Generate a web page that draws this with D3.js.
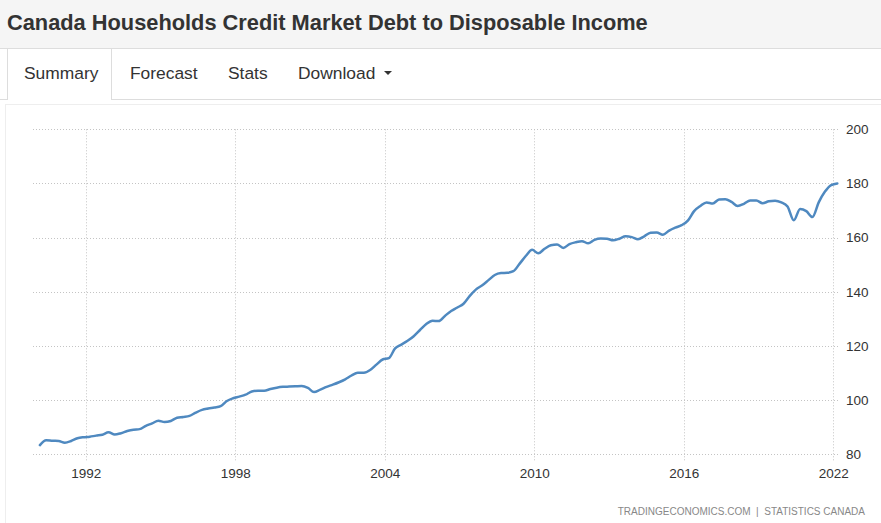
<!DOCTYPE html>
<html>
<head>
<meta charset="utf-8">
<script src="https://cdn.jsdelivr.net/npm/d3@7"></script>
<style>
  html, body { margin: 0; padding: 0; background: #fff; }
  svg { display: block; font-family: "Liberation Sans", Arial, Helvetica, sans-serif; }
</style>
</head>
<body>
<svg id="chart" width="881" height="523"></svg>
<script>
// ---- Data (quarterly, first quarter 1990 Q1, last 2022 Q1) ----
const title = "Canada Households Credit Market Debt to Disposable Income";
const tabs = ["Summary", "Forecast", "Stats", "Download"];
const firstQuarter = "1990-03-01";
const values = [
  83.4, 85.2, 85.0, 84.9, 84.3, 84.9, 85.9, 86.3,
  86.5, 86.9, 87.2, 88.1, 87.3, 87.8, 88.6, 89.1,
  89.3, 90.5, 91.4, 92.4, 91.9, 92.3, 93.5, 93.8,
  94.2, 95.4, 96.4, 96.9, 97.3, 97.8, 99.7, 100.7,
  101.3, 102.0, 103.2, 103.5, 103.5, 104.1, 104.6, 104.9,
  105.0, 105.1, 105.2, 104.5, 103.0, 103.9, 104.9, 105.7,
  106.6, 107.7, 109.1, 110.1, 110.1, 111.1, 113.1, 115.0,
  115.5, 119.1, 120.5, 121.9, 123.6, 125.9, 128.1, 129.3,
  129.2, 131.1, 132.9, 134.2, 135.6, 138.5, 140.9, 142.4,
  144.3, 146.2, 146.9, 147.0, 147.6, 150.4, 153.3, 155.5,
  154.2, 155.9, 157.2, 157.5, 156.2, 157.6, 158.3, 158.7,
  157.9, 159.2, 159.7, 159.6, 159.0, 159.6, 160.5, 160.2,
  159.4, 160.5, 161.8, 161.9, 161.1, 162.6, 163.7, 164.6,
  166.3, 169.8, 171.7, 173.0, 172.6, 174.1, 174.2, 173.2,
  171.7, 172.5, 173.7, 173.7, 172.7, 173.4, 173.6, 173.0,
  171.5, 166.4, 170.6, 169.8, 167.6, 173.0, 177.0, 179.4,
  180.0
];
const xTickYears = [1992, 1998, 2004, 2010, 2016, 2022];
const yTickValues = [80, 100, 120, 140, 160, 180, 200];
const sourceText = "TRADINGECONOMICS.COM  |  STATISTICS CANADA";

// ---- Build series ----
const start = d3.timeParse("%Y-%m-%d")(firstQuarter);
const series = values.map((v, i) => ({ date: d3.timeMonth.offset(start, i * 3), value: v }));

const svg = d3.select("#chart");

// Header band
svg.append("rect").attr("x", 0).attr("y", 0).attr("width", 881).attr("height", 48).attr("fill", "#f5f5f5");
svg.append("line").attr("x1", 0).attr("x2", 881).attr("y1", 48.5).attr("y2", 48.5).attr("stroke", "#dddddd");
svg.append("text").attr("x", 7).attr("y", 30)
  .attr("font-size", 21.8).attr("font-weight", "bold").attr("fill", "#333")
  .text(title);

// Tabs
const tabX = [24, 130, 228, 298];
svg.append("line").attr("x1", 0).attr("x2", 7).attr("y1", 99.5).attr("y2", 99.5).attr("stroke", "#dddddd");
svg.append("line").attr("x1", 112).attr("x2", 881).attr("y1", 99.5).attr("y2", 99.5).attr("stroke", "#dddddd");
svg.append("path").attr("d", "M7.5,100 V48.5 M111.5,48.5 V100").attr("stroke", "#dddddd").attr("fill", "none");
tabs.forEach((t, i) => {
  svg.append("text").attr("x", tabX[i]).attr("y", 79)
    .attr("font-size", 17.4).attr("fill", "#333").text(t);
});
svg.append("path").attr("d", "M384,71 L392,71 L388,75 Z").attr("fill", "#333");

// Chart panel borders
svg.append("line").attr("x1", 5.5).attr("x2", 5.5).attr("y1", 104).attr("y2", 523).attr("stroke", "#eeeeee");
svg.append("line").attr("x1", 5).attr("x2", 881).attr("y1", 104.5).attr("y2", 104.5).attr("stroke", "#eeeeee");

// Scales
const x = d3.scaleTime()
  .domain([new Date(1992, 0, 1), new Date(2022, 0, 1)])
  .range([85.7, 833.3]);
const y = d3.scaleLinear().domain([80, 200]).range([454.3, 129.3]);

const plotLeft = 33, plotRight = 838;

// Horizontal gridlines
svg.append("g").selectAll("line").data(yTickValues).join("line")
  .attr("x1", plotLeft).attr("x2", plotRight + 2)
  .attr("y1", d => Math.round(y(d)) + 0.5).attr("y2", d => Math.round(y(d)) + 0.5)
  .attr("stroke", "#c4c4c4").attr("stroke-dasharray", "1,2");

// Vertical gridlines
svg.append("g").selectAll("line").data(xTickYears).join("line")
  .attr("x1", d => Math.round(x(new Date(d, 0, 1))) + 0.5)
  .attr("x2", d => Math.round(x(new Date(d, 0, 1))) + 0.5)
  .attr("y1", y(200)).attr("y2", y(80) + 8)
  .attr("stroke", "#c4c4c4").attr("stroke-dasharray", "1,2");

// Y axis labels (right)
const yAxis = d3.axisRight(y).tickValues(yTickValues).tickSize(0).tickPadding(0).tickFormat(d3.format("d"));
const gy = svg.append("g").attr("transform", `translate(846,0)`).call(yAxis);
gy.select(".domain").remove();
gy.selectAll("text").attr("font-size", 13.5).attr("fill", "#333").attr("font-family", "Liberation Sans, Arial, sans-serif");

// X axis labels
const xAxis = d3.axisBottom(x).tickValues(xTickYears.map(yr => new Date(yr, 0, 1)))
  .tickSize(0).tickPadding(0).tickFormat(d3.timeFormat("%Y"));
const gx = svg.append("g").attr("transform", `translate(0,468)`).call(xAxis);
gx.select(".domain").remove();
gx.selectAll("text").attr("font-size", 13.5).attr("fill", "#333").attr("font-family", "Liberation Sans, Arial, sans-serif");

// Line
const line = d3.line().x(d => x(d.date)).y(d => y(d.value)).curve(d3.curveMonotoneX);
svg.append("path").datum(series)
  .attr("d", line)
  .attr("fill", "none")
  .attr("stroke", "#4f89c0")
  .attr("stroke-width", 2.5)
  .attr("stroke-linejoin", "round")
  .attr("stroke-linecap", "round");

// Source
svg.append("text").attr("x", 865).attr("y", 515).attr("text-anchor", "end")
  .attr("font-size", 10).attr("fill", "#888")
  .attr("xml:space", "preserve").style("white-space", "pre")
  .text(sourceText);
</script>
</body>
</html>
